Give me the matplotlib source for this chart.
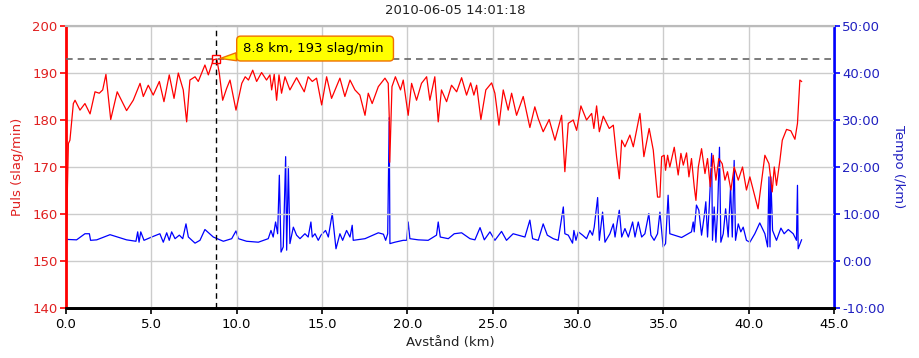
import matplotlib.pyplot as plt
import matplotlib.ticker as mticker

plt.rcParams['font.family'] = ['DejaVu Sans']

# 数据：距离(km) 与 心率(slag/min)
puls_km = [0.0, 0.1, 0.14, 0.23, 0.43, 0.53, 0.82, 1.11, 1.41, 1.70, 1.95, 2.15, 2.34, 2.62, 3.0,
           3.55, 3.94, 4.34, 4.53, 4.82, 5.11, 5.47, 5.74, 6.05, 6.33, 6.58, 6.87, 7.07, 7.26,
           7.56, 7.75, 8.14, 8.34, 8.63, 8.83, 8.98, 9.18, 9.41, 9.61, 9.96, 10.3, 10.5, 10.69,
           10.94, 11.17, 11.46, 11.75, 11.95, 12.05, 12.2, 12.34, 12.48, 12.63, 12.83, 13.12,
           13.51, 13.96, 14.19, 14.43, 14.68, 14.98, 15.27, 15.56, 16.05, 16.34, 16.64, 16.93,
           17.22, 17.52, 17.71, 17.94, 18.3, 18.69, 18.88, 18.94, 18.97, 19.1, 19.3, 19.6,
           19.76, 20.05, 20.25, 20.54, 20.83, 21.13, 21.32, 21.61, 21.81, 22.0, 22.3, 22.59,
           22.89, 23.18, 23.47, 23.71, 23.9, 24.06, 24.31, 24.6, 24.94, 25.13, 25.37, 25.62,
           25.91, 26.11, 26.4, 26.79, 27.18, 27.47, 27.67, 27.96, 28.31, 28.65, 29.04, 29.23,
           29.43, 29.72, 29.92, 30.17, 30.5, 30.8, 30.93, 31.09, 31.25, 31.48, 31.83, 32.07,
           32.26, 32.42, 32.56, 32.75, 33.04, 33.24, 33.63, 33.86, 34.17, 34.41, 34.66, 34.8,
           34.9, 35.05, 35.13, 35.25, 35.38, 35.64, 35.87, 36.03, 36.17, 36.36, 36.5, 36.65,
           36.81, 36.91, 37.05, 37.24, 37.44, 37.59, 37.75, 37.92, 38.08, 38.25, 38.45, 38.61,
           38.76, 38.96, 39.15, 39.39, 39.64, 39.87, 40.07, 40.55, 40.95, 41.19, 41.38, 41.5,
           41.63, 41.83, 41.97, 42.22, 42.47, 42.71, 42.86, 43.0, 43.1]
puls = [152, 168, 175, 175.7, 183.5, 184.2, 182.1, 183.5, 181.3, 186, 185.7, 186.4, 189.7, 180.1, 186,
        182, 184.2, 187.8, 185, 187.4, 185.3, 188.2, 183.9, 189.6, 184.6, 190, 186.4, 179.6, 188.5,
        189.2, 188.2, 191.7, 189.6, 192.8, 193, 190, 184.2, 186.7, 188.5, 182.1, 187.8, 189.2, 188.5,
        190.6, 188.2, 190.1, 188.5, 189.6, 186.4, 189.7, 184.2, 189.6, 185.7, 189.2, 186.4,
        189, 186, 189.2, 188.2, 188.9, 183.2, 189.2, 184.6, 188.9, 185, 188.5, 186.4,
        185.3, 181, 185.7, 183.5, 187.1, 188.9, 187.8, 180.7, 171, 187.1, 189.2, 186.4,
        188.5, 181, 187.8, 184.2, 187.8, 189.2, 184.2, 189.2, 179.6, 186.4, 183.9, 187.4,
        186, 189, 185.3, 187.9, 185.3, 187.4, 180.1, 186.4, 187.9, 185.7, 178.9, 186.4,
        182.1, 185.7, 181, 185, 178.4, 182.8, 180.3, 177.5, 180.1, 175.7, 181, 169,
        179.3, 180, 177.8, 183, 180, 181.4, 178.2, 183, 177.5, 180.8, 178.2, 178.9,
        172.2, 167.5, 175.7, 174.3, 176.8, 174.3, 181.4, 172.2, 178.2, 173.6, 163.6, 163.6,
        172.2, 172.5, 169.3, 172.5, 170, 174.2, 168.3, 172.9, 170.4, 173, 167.9, 171.8,
        165.8, 162.9, 170, 173.9, 168.6, 171.8, 165.8, 172.5, 167.2, 171.8, 170.7, 167.2,
        169, 165.1, 170, 167.2, 170, 165.1, 167.9, 161.1, 172.5, 170.7, 164.7, 170,
        166.1, 171.4, 175.7, 178, 177.7, 175.9, 179.3, 188.5, 188.2]

# 数据：距离(km) 与 配速(分钟/km)
tempo_km = [0.0, 0.62, 1.11, 1.37, 1.44, 1.8, 2.58, 3.55, 4.1, 4.2, 4.28, 4.38, 4.57, 5.02, 5.5,
            5.7, 5.9, 6.05, 6.19, 6.39, 6.64, 6.84, 7.03, 7.17, 7.56, 7.85, 8.14, 8.63, 9.22,
            9.71, 9.96, 10.1, 10.58, 11.27, 11.85, 12.01, 12.14, 12.28, 12.4, 12.5, 12.6,
            12.73, 12.87, 12.93, 13.03, 13.12, 13.32, 13.51, 13.71, 14.0, 14.19, 14.35, 14.43,
            14.59, 14.78, 14.94, 15.21, 15.37, 15.6, 15.82, 16.05, 16.21, 16.44, 16.64, 16.77,
            16.83, 17.52, 18.3, 18.6, 18.73, 18.85, 18.94, 18.98, 19.27, 19.76, 19.96, 20.05,
            20.15, 20.64, 21.22, 21.71, 21.81, 21.93, 22.4, 22.75, 23.18, 23.67, 23.96, 24.26,
            24.51, 24.84, 25.13, 25.52, 25.81, 26.2, 26.89, 27.18, 27.34, 27.67, 27.96, 28.2,
            28.55, 28.84, 29.14, 29.23, 29.43, 29.68, 29.76, 29.88, 30.02, 30.27, 30.5, 30.7,
            30.85, 30.95, 31.15, 31.25, 31.44, 31.58, 31.87, 32.07, 32.17, 32.32, 32.42, 32.56,
            32.75, 32.95, 33.2, 33.34, 33.53, 33.73, 33.92, 34.15, 34.27, 34.46, 34.66, 34.8,
            34.99, 35.13, 35.28, 35.38, 36.07, 36.65, 36.75, 36.81, 36.94, 37.08, 37.24, 37.39,
            37.49, 37.59, 37.69, 37.83, 37.88, 37.98, 38.08, 38.18, 38.29, 38.37, 38.51, 38.65,
            38.8, 38.94, 39.04, 39.15, 39.23, 39.39, 39.54, 39.68, 39.82, 39.87, 40.07, 40.36,
            40.65, 40.95, 41.11, 41.19, 41.25, 41.3, 41.4, 41.63, 41.89, 42.08, 42.32, 42.61,
            42.8, 42.86, 42.9, 43.1]
tempo = [4.6, 4.5, 5.8, 5.8, 4.4, 4.5, 5.6, 4.5, 4.2, 6.2, 4.0, 6.2, 4.4, 5.1, 5.8,
         4.0, 6.0, 4.4, 6.2, 4.75, 5.5, 4.75, 7.9, 5.1, 3.8, 4.4, 6.7, 5.1, 4.2,
         4.75, 6.4, 4.75, 4.2, 4.0, 4.75, 6.5, 5.1, 8.3, 5.8, 18.25, 1.9,
         3.0, 22.2, 2.3, 20.0, 3.7, 7.2, 5.5, 4.75, 5.8, 5.1, 8.3, 5.1,
         5.8, 4.4, 5.5, 6.5, 5.1, 10.1, 2.6, 5.8, 4.4, 6.5, 5.1, 7.6,
         4.4, 4.75, 6.0, 5.7, 4.4, 5.8, 30.5, 3.7, 4.0, 4.4, 4.4, 8.3,
         4.75, 4.5, 4.4, 5.5, 8.3, 5.1, 4.75, 5.8, 6.0, 4.75, 4.5, 7.1,
         4.5, 6.2, 4.4, 6.3, 4.4, 5.8, 5.1, 8.7, 4.75, 4.4, 7.9, 5.5,
         4.75, 4.4, 11.5, 5.8, 5.5, 3.8, 6.5, 4.4, 6.2, 5.5, 4.75, 6.5,
         5.5, 7.2, 13.5, 4.4, 10.4, 4.0, 5.8, 7.9, 5.1, 8.7, 10.8, 5.1,
         6.9, 5.1, 8.3, 5.1, 8.3, 5.1, 5.8, 10.1, 5.5, 4.4, 5.8, 10.4,
         3.0, 3.7, 14.0, 5.8, 5.0, 6.2, 8.3, 6.2, 11.9, 10.8, 5.5, 9.4,
         12.6, 5.1, 11.5, 22.9, 4.4, 11.5, 4.0, 10.8, 24.2, 4.0, 5.8, 11.1,
         5.1, 15.8, 5.1, 21.4, 4.4, 7.9, 6.2, 7.2, 5.1, 4.4, 4.0, 5.8,
         8.1, 5.8, 3.0, 17.9, 3.0, 17.9, 6.5, 4.4, 7.0, 5.8, 6.7, 5.8,
         4.4, 16.1, 2.6, 4.5]

x_ticks = [0, 5, 10, 15, 20, 25, 30, 35, 40, 45]
puls_ticks = [140, 150, 160, 170, 180, 190, 200]
tempo_ticks = [-10, 0, 10, 20, 30, 40, 50]

sel_km = 8.8
sel_puls = 193

red = '#ff0000'
blue = '#0000ff'

fig = plt.figure(figsize=(9.2, 3.58), dpi=100)
ax = fig.add_axes([66 / 920, 1 - 308 / 358, (834 - 66) / 920, (308 - 26) / 358])
ax2 = ax.twinx()

# 网格
ax.grid(True, color='#cccccc', linewidth=1.0)
ax.set_axisbelow(True)

# 配速（右轴）
ax2.plot(tempo_km, tempo, color=blue, linewidth=0.9)
# 心率（左轴）
ax.plot(puls_km, puls, color=red, linewidth=0.9, zorder=3)
ax.set_zorder(ax2.get_zorder() + 1)
ax.patch.set_visible(False)

# 十字线和标注
ax.axvline(sel_km, color='black', linestyle=(0, (4, 3)), linewidth=1.0, zorder=4)
ax.axhline(sel_puls, color='#666666', linestyle=(0, (4, 3)), linewidth=1.2, zorder=4)
ax.plot([sel_km], [sel_puls], marker='s', markersize=6, mfc='none', mec=red, mew=1.0, zorder=5)
ax.annotate('%.1f km, %d slag/min ' % (sel_km, sel_puls), xy=(sel_km, sel_puls),
            xytext=(10.35, 195.2), fontsize=9.5, color='black', va='center', ha='left', zorder=6,
            bbox=dict(boxstyle='round,pad=0.45,rounding_size=0.3', fc='#ffff00', ec='#f07000', lw=1.0),
            arrowprops=dict(arrowstyle='wedge,tail_width=0.6', fc='#ffff00', ec='#f07000', lw=1.0,
                            shrinkA=0, shrinkB=3))

# 坐标轴范围和刻度
ax.set_xlim(0, 45)
ax.set_ylim(140, 200)
ax2.set_ylim(-10, 50)
ax.set_xticks(x_ticks)
ax.set_yticks(puls_ticks)
ax2.set_yticks(tempo_ticks)
ax.xaxis.set_major_formatter(mticker.FuncFormatter(lambda v, p: '%.1f' % v))
ax2.yaxis.set_major_formatter(mticker.FuncFormatter(lambda v, p: '%d:00' % v))

ax.tick_params(axis='x', colors='black', labelsize=9.5, length=4, width=1.2)
ax.tick_params(axis='y', colors=red, labelsize=9.5, length=4, width=1.2, pad=2)
ax2.tick_params(axis='y', colors=blue, labelsize=9.5, length=4, width=1.2, pad=2)
for lab in ax.get_yticklabels():
    lab.set_color('#e02020')
for lab in ax2.get_yticklabels():
    lab.set_color('#2020c0')

# 四条边
for a in (ax, ax2):
    a.spines['top'].set_color('#bbbbbb')
    a.spines['top'].set_linewidth(1.5)
    a.spines['bottom'].set_color('black')
    a.spines['bottom'].set_linewidth(2)
ax.spines['left'].set_color(red)
ax.spines['left'].set_linewidth(2)
ax2.spines['right'].set_color(blue)
ax2.spines['right'].set_linewidth(2)
ax.spines['right'].set_visible(False)
ax2.spines['left'].set_visible(False)

# 坐标名
ax.set_xlabel('Avstånd (km)', fontsize=9.5, color='#222222', labelpad=3)
ax.set_ylabel('Puls (slag/min)', fontsize=9.5, color='#e02020', labelpad=6)
ax2.set_ylabel('Tempo (/km)', fontsize=9.5, color='#2020c0', rotation=270, labelpad=14)
fig.text(455 / 920, 1 - 11 / 358, '2010-06-05 14:01:18', ha='center', va='center',
         fontsize=9.5, color='#222222')

plt.savefig('out.png', dpi=100)
